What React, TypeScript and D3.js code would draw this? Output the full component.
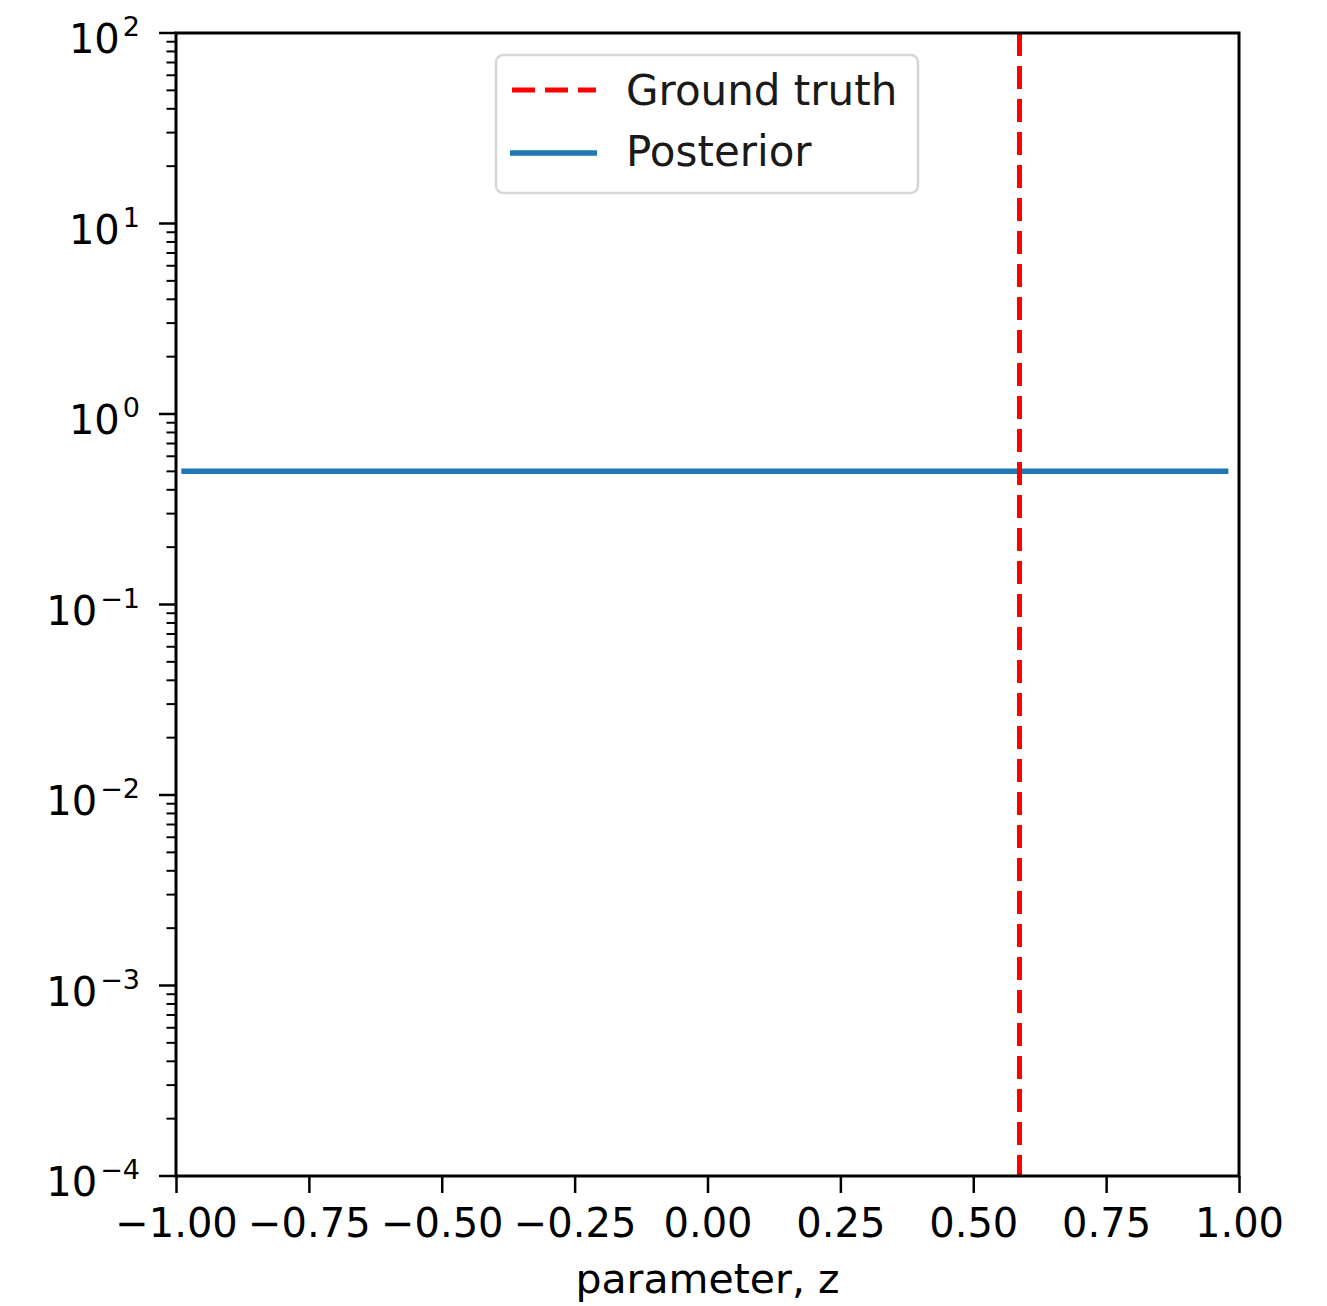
import React, { useEffect, useRef } from "react";
import * as d3 from "d3";

// values
const posteriorX = [-0.99, -0.5, 0.0, 0.5, 0.98];
const posteriorY = [0.5, 0.5, 0.5, 0.5, 0.5];
const groundTruth = 0.587;
const xTicks = [-1, -0.75, -0.5, -0.25, 0, 0.25, 0.5, 0.75, 1];
const yExponents = [-4, -3, -2, -1, 0, 1, 2];
const legendLabels = ["Ground truth", "Posterior"];

const App = () => {
  const ref = useRef<SVGSVGElement | null>(null);
  const width = 1327,
    height = 1306;
  const left = 176,
    right = 1239,
    top = 33,
    bottom = 1176;
  const font = "DejaVu Sans";

  useEffect(() => {
    const svg = d3.select(ref.current);
    svg.selectAll("*").remove();

    const x = d3.scaleLinear().domain([-1, 1]).range([left, right]);
    const y = d3.scaleLog().domain([1e-4, 1e2]).range([bottom, top]);

    svg
      .append("rect")
      .attr("width", width)
      .attr("height", height)
      .attr("fill", "#fff");

    // posterior
    const line = d3
      .line<number>()
      .x((d) => x(d))
      .y((d, i) => y(posteriorY[i]));
    svg
      .append("path")
      .attr("d", line(posteriorX))
      .attr("fill", "none")
      .attr("stroke", "#1f77b4")
      .attr("stroke-width", 5.5);

    // ground truth
    svg
      .append("line")
      .attr("x1", x(groundTruth))
      .attr("x2", x(groundTruth))
      .attr("y1", top)
      .attr("y2", bottom)
      .attr("stroke", "red")
      .attr("stroke-width", 5)
      .attr("stroke-dasharray", "23 10");

    // x axis
    const xAxis = svg
      .append("g")
      .attr("transform", `translate(0, ${bottom})`)
      .call(
        d3
          .axisBottom(x)
          .tickValues(xTicks)
          .tickSizeInner(17)
          .tickSizeOuter(0)
          .tickPadding(10)
          .tickFormat(d3.format(".2f"))
      );
    xAxis.select(".domain").remove();
    xAxis.selectAll(".tick line").attr("stroke", "#000").attr("stroke-width", 2.5);
    xAxis
      .selectAll(".tick text")
      .attr("font-family", font)
      .attr("font-size", 40)
      .attr("fill", "#000")
      .attr("dy", null)
      .attr("y", 61);

    // y axis major ticks + minor ticks
    const yg = svg.append("g");
    const minors: number[] = [];
    yExponents.slice(0, -1).forEach((e) => {
      for (let k = 2; k <= 9; k++) minors.push(k * Math.pow(10, e));
    });
    yg.selectAll("line.minor")
      .data(minors)
      .enter()
      .append("line")
      .attr("x1", left - 9.5)
      .attr("x2", left)
      .attr("y1", (d) => y(d))
      .attr("y2", (d) => y(d))
      .attr("stroke", "#000")
      .attr("stroke-width", 2);
    yg.selectAll("line.major")
      .data(yExponents)
      .enter()
      .append("line")
      .attr("x1", left - 17)
      .attr("x2", left)
      .attr("y1", (d) => y(Math.pow(10, d)))
      .attr("y2", (d) => y(Math.pow(10, d)))
      .attr("stroke", "#000")
      .attr("stroke-width", 2.5);
    const lbl = yg
      .selectAll("text")
      .data(yExponents)
      .enter()
      .append("text")
      .attr("font-family", font)
      .attr("fill", "#000")
      .attr("text-anchor", "end")
      .attr("x", 140)
      .attr("y", (d) => y(Math.pow(10, d)) + 20);
    lbl.append("tspan").attr("font-size", 40).text("10");
    lbl
      .append("tspan")
      .attr("font-size", 27)
      .attr("dx", 3)
      .attr("dy", -17)
      .text((d) => (d < 0 ? "\u2212" + Math.abs(d) : String(d)));

    // frame
    svg
      .append("rect")
      .attr("x", left)
      .attr("y", top)
      .attr("width", right - left)
      .attr("height", bottom - top)
      .attr("fill", "none")
      .attr("stroke", "#000")
      .attr("stroke-width", 3);

    // x label
    svg
      .append("text")
      .attr("x", (left + right) / 2)
      .attr("y", 1293)
      .attr("text-anchor", "middle")
      .attr("font-family", font)
      .attr("font-size", 41)
      .attr("fill", "#000")
      .text("parameter, z");

    // legend
    const lg = svg.append("g");
    lg.append("rect")
      .attr("x", 496)
      .attr("y", 55)
      .attr("width", 422)
      .attr("height", 138)
      .attr("rx", 7)
      .attr("fill", "#fff")
      .attr("fill-opacity", 0.8)
      .attr("stroke", "#d6d6d6")
      .attr("stroke-width", 2.5);
    lg.append("line")
      .attr("x1", 512)
      .attr("x2", 596)
      .attr("y1", 90)
      .attr("y2", 90)
      .attr("stroke", "red")
      .attr("stroke-width", 5)
      .attr("stroke-dasharray", "23 10");
    lg.append("line")
      .attr("x1", 510)
      .attr("x2", 597)
      .attr("y1", 153)
      .attr("y2", 153)
      .attr("stroke", "#1f77b4")
      .attr("stroke-width", 5.5);
    lg.selectAll("text")
      .data(legendLabels)
      .enter()
      .append("text")
      .attr("x", 626)
      .attr("y", (d, i) => 105 + i * 61)
      .attr("font-family", font)
      .attr("font-size", 42)
      .attr("fill", "#1a1a1a")
      .text((d) => d);
  }, []);

  return (
    <svg
      ref={ref}
      width={width}
      height={height}
      style={{ position: "absolute", left: 0, top: 0 }}
    ></svg>
  );
};

export default App;
